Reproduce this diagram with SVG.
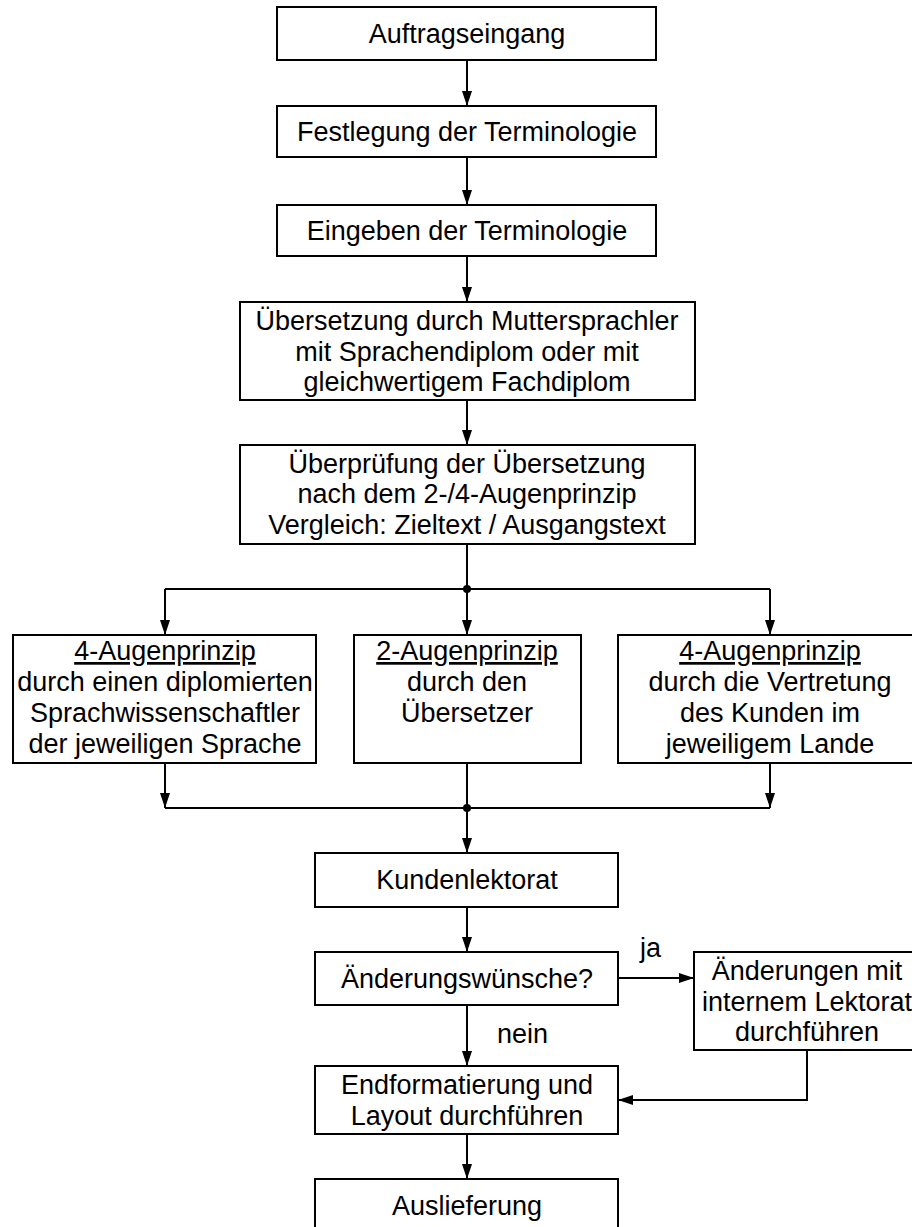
<svg xmlns="http://www.w3.org/2000/svg" width="912" height="1227" viewBox="0 0 912 1227">
<style>
  .box { fill: #ffffff; stroke: #000000; stroke-width: 2; }
  .t { font-family: "Liberation Sans", Arial, sans-serif; font-size: 27px; fill: #000000; text-anchor: middle; }
  .u { text-decoration: underline; }
  .lbl { font-family: "Liberation Sans", Arial, sans-serif; font-size: 27px; fill: #000000; }
  .c { fill: none; stroke: #000000; stroke-width: 2; }
  .a { marker-end: url(#arr); }
</style>
<defs>
  <marker id="arr" markerUnits="userSpaceOnUse" markerWidth="15" markerHeight="10" refX="15" refY="5" orient="auto">
    <path d="M0,0 L15,5 L0,10 z" fill="#000000"/>
  </marker>
</defs>
<rect width="912" height="1227" fill="#ffffff"/>

<g id="connectors">
  <line class="c a" x1="467" y1="60" x2="467" y2="106"/>
  <line class="c a" x1="467" y1="157" x2="467" y2="205"/>
  <line class="c a" x1="467" y1="256" x2="467" y2="302"/>
  <line class="c a" x1="467" y1="400" x2="467" y2="445"/>
  <line class="c" x1="467" y1="544" x2="467" y2="589"/>
  <line class="c" x1="165" y1="589" x2="770" y2="589"/>
  <circle cx="467" cy="589" r="4" fill="#000000"/>
  <line class="c a" x1="165" y1="589" x2="165" y2="635"/>
  <line class="c a" x1="467" y1="589" x2="467" y2="635"/>
  <line class="c a" x1="770" y1="589" x2="770" y2="635"/>
  <line class="c a" x1="165" y1="763" x2="165" y2="808"/>
  <line class="c a" x1="770" y1="763" x2="770" y2="808"/>
  <line class="c" x1="165" y1="808" x2="770" y2="808"/>
  <line class="c" x1="467" y1="763" x2="467" y2="808"/>
  <circle cx="467" cy="808" r="4" fill="#000000"/>
  <line class="c a" x1="467" y1="808" x2="467" y2="853"/>
  <line class="c a" x1="467" y1="907" x2="467" y2="952"/>
  <line class="c a" x1="618" y1="978" x2="694" y2="978"/>
  <text class="lbl" x="640" y="957">ja</text>
  <line class="c a" x1="467" y1="1005" x2="467" y2="1066"/>
  <text class="lbl" x="497" y="1043">nein</text>
  <polyline class="c a" points="807,1050 807,1100 618,1100"/>
  <line class="c a" x1="467" y1="1134" x2="467" y2="1179"/>
</g>

<g id="n1">
  <rect class="box" x="277" y="7" width="379" height="53"/>
  <text class="t" x="467" y="43">Auftragseingang</text>
</g>
<g id="n2">
  <rect class="box" x="277" y="106" width="379" height="51"/>
  <text class="t" x="467" y="141">Festlegung der Terminologie</text>
</g>
<g id="n3">
  <rect class="box" x="277" y="205" width="379" height="51"/>
  <text class="t" x="467" y="240">Eingeben der Terminologie</text>
</g>
<g id="n4">
  <rect class="box" x="240" y="302" width="455" height="98"/>
  <text class="t" x="467" y="330">Übersetzung durch Muttersprachler</text>
  <text class="t" x="467" y="360.5">mit Sprachendiplom oder mit</text>
  <text class="t" x="467" y="391">gleichwertigem Fachdiplom</text>
</g>
<g id="n5">
  <rect class="box" x="240" y="445" width="455" height="99"/>
  <text class="t" x="467" y="472.5">Überprüfung der Übersetzung</text>
  <text class="t" x="467" y="503">nach dem 2-/4-Augenprinzip</text>
  <text class="t" x="467" y="533.5">Vergleich: Zieltext / Ausgangstext</text>
</g>
<g id="n6">
  <rect class="box" x="13" y="635" width="303" height="128"/>
  <text class="t u" x="165" y="660">4-Augenprinzip</text>
  <text class="t" x="165" y="691">durch einen diplomierten</text>
  <text class="t" x="165" y="722">Sprachwissenschaftler</text>
  <text class="t" x="165" y="753">der jeweiligen Sprache</text>
</g>
<g id="n7">
  <rect class="box" x="354" y="635" width="227" height="128"/>
  <text class="t u" x="467" y="660">2-Augenprinzip</text>
  <text class="t" x="467" y="691">durch den</text>
  <text class="t" x="467" y="722">Übersetzer</text>
</g>
<g id="n8">
  <rect class="box" x="618" y="635" width="304" height="128"/>
  <text class="t u" x="770" y="660">4-Augenprinzip</text>
  <text class="t" x="770" y="691">durch die Vertretung</text>
  <text class="t" x="770" y="722">des Kunden im</text>
  <text class="t" x="770" y="753">jeweiligem Lande</text>
</g>
<g id="n9">
  <rect class="box" x="315" y="853" width="303" height="54"/>
  <text class="t" x="467" y="889">Kundenlektorat</text>
</g>
<g id="n10">
  <rect class="box" x="315" y="952" width="303" height="53"/>
  <text class="t" x="467" y="988">Änderungswünsche?</text>
</g>
<g id="n11">
  <rect class="box" x="694" y="952" width="228" height="98"/>
  <text class="t" x="807" y="980">Änderungen mit</text>
  <text class="t" x="807" y="1010.5">internem Lektorat</text>
  <text class="t" x="807" y="1041">durchführen</text>
</g>
<g id="n12">
  <rect class="box" x="315" y="1066" width="303" height="68"/>
  <text class="t" x="467" y="1094">Endformatierung und</text>
  <text class="t" x="467" y="1124.5">Layout durchführen</text>
</g>
<g id="n13">
  <rect class="box" x="315" y="1179" width="303" height="54"/>
  <text class="t" x="467" y="1215">Auslieferung</text>
</g>
</svg>
